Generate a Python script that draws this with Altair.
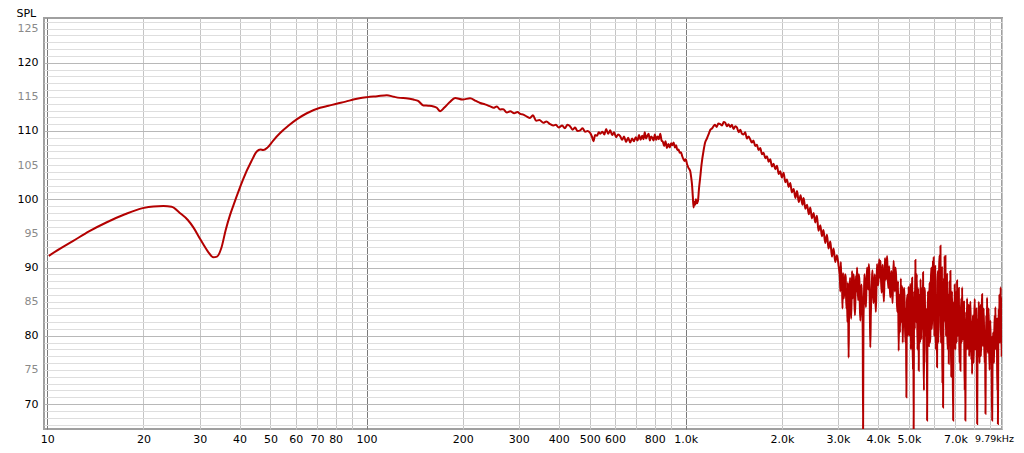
import altair as alt
import pandas as pd

# ---- data (frequency in Hz, SPL in dB) ----
low_freq = [10.1, 11, 12.05, 13.5, 15.3, 17.5, 19.9, 21.5, 23.1, 24.5, 26, 27.5, 28.7, 30, 30.8,
            32, 33.1, 34, 35.1, 36.2, 37.3, 38.2, 40.1, 41.1, 43.6, 45.3, 46.5, 47.5, 49, 51,
            53.6, 57, 60.4, 65, 71.5, 76, 80.6, 86, 90.9, 95, 100.7, 108, 115.7, 122, 127.4,
            133, 140.2, 145, 150.7, 156, 162, 166, 170, 175, 182, 189.4, 200, 211, 220, 227,
            235, 244]
low_spl = [91.7, 92.8, 93.9, 95.3, 96.6, 97.8, 98.7, 98.95, 99.0, 98.9, 98.0, 97.0, 95.85, 94.3, 93.4,
           92.2, 91.5, 91.6, 92.9, 95.5, 97.6, 99.0, 101.7, 103.0, 105.6, 107.0, 107.3, 107.2, 107.6, 108.6,
           109.7, 110.8, 111.7, 112.6, 113.4, 113.7, 114.0, 114.3, 114.6, 114.8, 114.96, 115.1, 115.25, 115.0, 114.85,
           114.8, 114.6, 114.4, 113.75, 113.7, 113.6, 113.4, 112.9, 113.4, 114.2, 114.85, 114.6, 114.8, 114.4, 114.1,
           113.9, 113.6]

mid_freq = [250, 256, 262, 268, 275, 282, 290, 297, 303, 310, 318, 325, 332, 340, 348, 358, 366, 376,
            385, 392, 400, 410, 418, 426, 434, 442, 450, 458, 467, 475, 484, 493, 502, 508, 514, 520,
            527, 534, 540, 548, 556, 563, 571, 580, 588, 596, 605, 614, 623, 632, 641, 650, 660, 670,
            679, 688, 697, 706, 714, 722, 730, 737, 744, 751, 758, 765, 772, 779, 786, 793, 800, 808,
            816, 824, 832, 840, 848, 856, 864, 873, 882, 891, 900, 908, 916, 925, 933, 941, 949, 958,
            966, 975, 984, 992, 1000]
mid_spl = [113.4, 113.6, 113.15, 113.2, 112.7, 112.9, 112.6, 112.8, 112.5, 112.4, 112.1, 111.9, 112.3, 111.5,
           111.6, 111.2, 111.4, 111.0, 110.8, 110.9, 110.5, 110.8, 110.4, 110.9, 110.7, 110.2, 110.5, 110.0,
           110.1, 110.4, 109.9, 110.0, 109.7, 109.2, 108.5, 109.4, 109.3, 109.8, 109.6, 109.9, 109.5, 110.3,
           109.6, 110.1, 109.4, 109.8, 109.1, 109.5, 109.25, 108.7, 109.2, 108.4, 109.0, 108.3, 108.9, 108.5,
           109.1, 108.6, 109.4, 108.7, 109.3, 108.8, 109.8, 108.9, 109.3, 109.6, 108.6, 109.2, 109.0, 108.6,
           109.5, 108.7, 109.2, 108.8, 109.6, 108.6, 108.4, 107.8, 108.5, 107.5, 108.1, 107.6, 108.2, 107.9,
           108.3, 107.6, 107.9, 107.2, 107.3, 106.8, 106.9, 106.3, 105.85, 105.6, 105.85]

dip_freq = [1010, 1020, 1033, 1040, 1046, 1052, 1058, 1064, 1070, 1076, 1083, 1092, 1100, 1110, 1120,
            1137, 1150, 1165, 1179, 1195, 1210, 1222, 1235, 1250, 1265, 1283, 1300, 1315, 1330, 1345,
            1360, 1379, 1395, 1412, 1430, 1447, 1465, 1483, 1500, 1518, 1535, 1555, 1572, 1592, 1610,
            1630, 1650, 1671, 1690, 1712, 1733, 1754, 1775, 1797, 1818, 1840, 1862, 1885, 1908, 1931,
            1955, 1978, 2000, 2026, 2050, 2075, 2100, 2126, 2150, 2178, 2205, 2232, 2260, 2290, 2320,
            2340, 2370, 2399, 2430, 2455, 2485, 2515, 2545, 2576, 2605, 2640, 2670, 2700, 2735, 2770,
            2800, 2838, 2870, 2905, 2940, 2975, 3013]
dip_spl = [105.1, 104.6, 104.1, 103.2, 102.2, 100.5, 98.8, 99.6, 99.2, 100.0, 99.4, 99.75, 101.5, 103.2, 105.0,
           107.1, 108.3, 108.9, 109.5, 110.2, 110.4, 110.7, 110.9, 110.6, 111.1, 111.0, 110.8, 111.3, 111.2, 110.7,
           111.0, 110.6, 110.9, 110.3, 110.7, 110.5, 109.8, 110.2, 109.6, 109.5, 109.8, 108.9, 109.2, 108.8, 108.3,
           108.6, 107.8, 108.0, 107.2, 107.5, 106.6, 106.8, 106.0, 106.3, 105.5, 105.85, 104.8, 105.2, 104.4, 104.9,
           103.7, 104.1, 103.2, 103.9, 102.5, 102.9, 101.8, 102.4, 101.0, 101.5, 100.2, 101.2, 99.6, 100.6, 99.2,
           100.2, 98.6, 99.2, 97.8, 98.8, 97.2, 98.0, 96.6, 97.6, 95.4, 96.2, 94.6, 95.5, 93.6, 94.8,
           92.8, 93.8, 91.6, 92.8, 90.8, 91.8, 90.2]

# 3.0k - 4.6k
hf1_freq = [3040, 3050, 3060, 3073, 3087, 3098, 3110, 3125, 3140, 3155, 3170, 3185, 3202, 3211, 3220,
            3229, 3238, 3249, 3260, 3272, 3285, 3300, 3319, 3330, 3340, 3352, 3365, 3378, 3390, 3403,
            3415, 3428, 3441, 3455, 3470, 3485, 3500, 3512, 3524, 3537, 3550, 3562, 3575, 3585, 3594,
            3604, 3615, 3628, 3640, 3655, 3670, 3685, 3700, 3715, 3730, 3745, 3760, 3773, 3786, 3800,
            3815, 3830, 3845, 3860, 3875, 3892, 3910, 3925, 3940, 3958, 3975, 3992, 4010, 4025, 4040,
            4058, 4075, 4092, 4110, 4125, 4140, 4158, 4175, 4192, 4210, 4225, 4240, 4258, 4275, 4292,
            4310, 4325, 4340, 4358, 4375, 4392, 4410, 4428, 4445, 4462, 4481, 4500, 4520, 4540, 4560,
            4580]
hf1_spl = [88.5, 86.5, 90.8, 88.0, 87.6, 84.0, 89.2, 85.5, 86.4, 89.0, 88.6, 84.0, 85.1, 82.0, 87.8,
           84.0, 76.8, 84.0, 86.5, 88.5, 84.0, 82.5, 89.5, 86.0, 85.5, 89.0, 88.2, 84.5, 83.0, 86.0,
           88.8, 86.5, 90.0, 87.0, 85.2, 89.0, 88.0, 84.0, 82.2, 85.0, 87.5, 86.0, 84.5, 80.0, 66.0,
           82.0, 85.0, 89.0, 87.8, 86.0, 84.2, 88.0, 90.0, 88.0, 86.8, 90.5, 89.0, 84.0, 78.3, 83.0,
           86.0, 88.0, 89.6, 87.0, 84.8, 86.5, 89.0, 86.0, 83.5, 87.0, 90.5, 88.0, 87.4, 89.5, 91.2,
           88.5, 91.0, 88.0, 86.3, 89.0, 90.4, 87.5, 85.0, 88.0, 91.4, 89.0, 88.2, 90.5, 91.7, 89.0,
           87.0, 88.5, 90.2, 87.0, 85.6, 88.0, 89.5, 87.0, 84.8, 88.0, 91.0, 88.0, 86.5, 90.0, 88.8,
           86.0]

# 4.6k - 9.79k
hf2_freq = [4600, 4625, 4646, 4670, 4690, 4720, 4740, 4762, 4785, 4800, 4820, 4840, 4860, 4880, 4895,
            4912, 4930, 4950, 4970, 4990, 5010, 5030, 5045, 5058, 5075, 5090, 5105, 5120, 5135, 5150,
            5165, 5176, 5190, 5200, 5220, 5241, 5255, 5270, 5285, 5300, 5318, 5335, 5350, 5370, 5385,
            5400, 5420, 5440, 5455, 5470, 5488, 5505, 5522, 5540, 5558, 5575, 5592, 5610, 5630, 5650,
            5665, 5680, 5692, 5703, 5720, 5740, 5758, 5775, 5790, 5807, 5823, 5840, 5860, 5880, 5898,
            5915, 5932, 5950, 5965, 5981, 5995, 6010, 6028, 6045, 6062, 6080, 6105, 6128, 6145, 6165,
            6182, 6200, 6220, 6240, 6260, 6281, 6295, 6310, 6328, 6345, 6358, 6370, 6385, 6400, 6420,
            6440, 6455, 6470, 6490, 6509, 6525, 6540, 6560, 6580, 6600, 6620, 6645, 6668, 6685, 6700,
            6722, 6747, 6768, 6790, 6810, 6830, 6855, 6883, 6900, 6920, 6940, 6960, 6980, 7000, 7020,
            7040, 7060, 7080, 7100, 7120, 7145, 7170, 7190, 7210, 7230, 7253, 7275, 7300, 7320, 7344,
            7365, 7390, 7415, 7440, 7460, 7480, 7498, 7516, 7538, 7560, 7585, 7610, 7630, 7650, 7675,
            7701, 7725, 7750, 7775, 7800, 7825, 7850, 7870, 7889, 7915, 7940, 7965, 7990, 8018, 8045,
            8068, 8090, 8115, 8140, 8162, 8185, 8208, 8230, 8255, 8280, 8305, 8330, 8355, 8380, 8405,
            8430, 8456, 8482, 8506, 8530, 8555, 8580, 8610, 8640, 8665, 8690, 8715, 8740, 8765, 8790,
            8815, 8840, 8865, 8890, 8920, 8950, 8978, 9005, 9032, 9060, 9090, 9120, 9150, 9180, 9210,
            9240, 9265, 9290, 9312, 9333, 9356, 9380, 9405, 9430, 9450, 9470, 9488, 9506, 9533, 9560,
            9585, 9610, 9630, 9650, 9675, 9698, 9720, 9740, 9765, 9790]
hf2_spl = [83.5, 88.0, 77.8, 86.0, 80.5, 88.4, 82.0, 87.3, 79.0, 84.0, 86.5, 87.0, 82.0, 79.0, 84.0,
           71.0, 85.0, 86.0, 80.0, 87.2, 83.0, 80.0, 86.5, 87.6, 78.0, 83.0, 86.0, 88.5, 80.0, 75.0,
           84.0, 66.0, 84.0, 86.5, 81.0, 91.1, 84.0, 82.0, 88.0, 89.0, 78.0, 80.5, 87.0, 74.9, 85.0,
           86.0, 79.0, 88.3, 83.0, 79.5, 86.0, 87.0, 81.0, 89.3, 78.0, 72.0, 87.0, 86.5, 80.0, 84.0,
           82.0, 76.0, 84.0, 67.6, 82.0, 86.5, 80.0, 78.5, 85.0, 87.8, 79.0, 80.0, 88.0, 90.0, 81.0,
           82.5, 89.0, 91.0, 84.0, 91.5, 83.0, 80.0, 88.0, 90.2, 81.0, 78.0, 86.0, 75.4, 88.0, 89.5,
           79.0, 82.0, 90.0, 91.8, 85.0, 93.2, 82.0, 79.0, 88.0, 90.0, 80.0, 73.0, 84.0, 69.5, 86.0,
           88.5, 82.0, 91.7, 84.0, 91.7, 83.0, 80.0, 87.0, 89.0, 80.0, 78.0, 86.0, 75.9, 84.0, 88.0,
           81.0, 89.5, 80.0, 74.0, 84.0, 86.5, 79.0, 67.6, 82.0, 85.0, 78.0, 87.5, 81.0, 78.0, 84.0,
           86.5, 79.0, 88.1, 82.0, 80.0, 85.0, 87.0, 80.0, 76.0, 84.0, 74.9, 83.0, 85.5, 79.0, 87.1,
           81.0, 79.5, 84.0, 85.0, 78.0, 72.0, 82.0, 67.6, 80.0, 83.5, 78.0, 85.5, 80.0, 78.0, 83.0,
           84.6, 77.0, 80.0, 84.0, 85.0, 79.0, 76.5, 82.0, 74.4, 81.0, 83.0, 76.0, 78.0, 83.0, 85.4,
           78.0, 79.0, 82.0, 84.0, 75.0, 67.1, 79.0, 82.5, 77.0, 85.0, 80.0, 76.0, 82.0, 84.5, 77.0,
           79.0, 84.0, 86.1, 80.0, 78.5, 82.0, 84.0, 79.0, 76.0, 80.0, 68.6, 79.0, 83.0, 78.0, 85.6,
           80.0, 77.5, 82.0, 84.0, 79.0, 75.0, 80.0, 82.2, 77.0, 80.0, 74.0, 67.6, 78.0, 80.5, 79.0,
           76.0, 81.0, 83.0, 78.0, 84.2, 80.0, 78.0, 81.0, 82.5, 76.0, 72.0, 78.0, 67.1, 80.0, 84.0,
           79.0, 86.0, 80.0, 79.0, 84.0, 87.1, 80.0, 82.0, 77.0, 85.6]

# ---- axis tick / grid values ----
x_grid = [10, 20, 30, 40, 50, 60, 70, 80, 90,
          100, 200, 300, 400, 500, 600, 700, 800, 900,
          1000, 2000, 3000, 4000, 5000, 6000, 7000, 8000, 9000, 9790]
x_labelled = [10, 20, 30, 40, 50, 60, 70, 80, 100, 200, 300, 400, 500, 600, 800,
              1000, 2000, 3000, 4000, 5000, 7000]
y_grid = list(range(67, 127))

freq = low_freq + mid_freq + dip_freq + hf1_freq + hf2_freq
spl = low_spl + mid_spl + dip_spl + hf1_spl + hf2_spl
df = pd.DataFrame({"freq": freq, "spl": spl, "i": list(range(len(freq)))})

lab_list = ",".join(str(v) for v in x_labelled)
x_label_expr = (
    "datum.value == 9790 ? '9.79kHz' : "
    f"(indexof([{lab_list}], datum.value) >= 0 ? "
    "(datum.value >= 1000 ? format(datum.value / 1000, '.1f') + 'k' : format(datum.value, 'd')) : '')"
)

FONT = "DejaVu Sans"

x_axis = alt.Axis(
    values=x_grid, labelExpr=x_label_expr, title=None, ticks=False, domain=False,
    labelPadding=4, labelFlush=False, labelOverlap=False,
    labelFont=FONT, labelColor="#000000",
    labelFontSize={"condition": {"test": "datum.value == 9790", "value": 9.5}, "value": 11},
    labelOffset={"condition": {"test": "datum.value == 9790", "value": -8}, "value": 0},
    gridColor={"condition": {"test": "datum.value == 10 || datum.value == 100 || datum.value == 1000",
                             "value": "#7a7a7a"}, "value": "#c4c4c4"},
    gridWidth=1,
)

y_axis = alt.Axis(
    values=y_grid, labelExpr="datum.value % 5 == 0 ? datum.label : ''",
    ticks=False, domain=False, labelPadding=6, labelOverlap=False, labelFlush=False,
    labelFont=FONT, labelFontSize=11,
    labelColor={"condition": {"test": "datum.value % 10 == 0", "value": "#000000"}, "value": "#8a8a8a"},
    gridColor={"condition": {"test": "datum.value % 10 == 0", "value": "#b8b8b8"}, "value": "#dedede"},
    gridWidth=1,
    title="SPL", titleAngle=0, titleAlign="left", titleBaseline="alphabetic",
    titleX=-28, titleY=-1.5, titleFont=FONT, titleFontSize=11, titleFontWeight="normal",
    titleColor="#000000",
)

chart = alt.Chart(df).mark_line(
    color="#b30000", strokeWidth=2, clip=True, interpolate="monotone"
).encode(
    x=alt.X("freq:Q", scale=alt.Scale(type="log", domain=[9.76, 9790], nice=False), axis=x_axis),
    y=alt.Y("spl:Q", scale=alt.Scale(domain=[66.35, 126.55], nice=False, zero=False), axis=y_axis),
    order="i:Q",
).properties(
    width=958, height=411,
    autosize=alt.AutoSizeParams(type="none"),
    padding={"left": 36, "top": 10, "right": 14, "bottom": 16},
).configure_view(stroke="#a0a0a0", strokeWidth=2)

chart.save("out.html", embed_options={"renderer": "svg", "actions": False})
